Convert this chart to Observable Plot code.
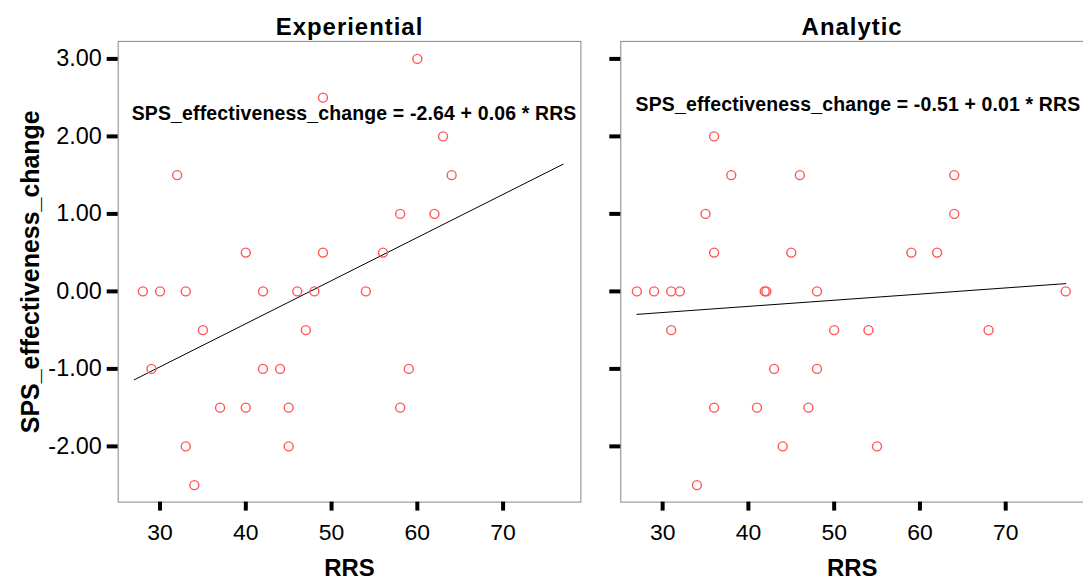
<!DOCTYPE html>
<html>
<head>
<meta charset="utf-8">
<script src="https://cdn.jsdelivr.net/npm/d3@7"></script>
<script src="https://cdn.jsdelivr.net/npm/@observablehq/plot@0.6"></script>
<style>
html, body { margin: 0; padding: 0; background: #fff; overflow: hidden; }
#chart svg { display: block; }
#chart g[aria-label="fx-axis tick label"] text { letter-spacing: 1px; }
#chart g.eq text { letter-spacing: 0.16px; }
</style>
</head>
<body>
<div id="chart"></div>
<script>
// ---- data ----
const groups = ["Experiential", "Analytic"];

const expRRS    = [60, 49, 63, 32, 64, 58, 62, 40, 49, 56, 28, 30, 33, 42, 46, 48, 54, 35, 47, 29, 42, 44, 59, 37, 40, 45, 58, 33, 45, 34];
const expChange = [3, 2.5, 2, 1.5, 1.5, 1, 1, 0.5, 0.5, 0.5, 0, 0, 0, 0, 0, 0, 0, -0.5, -0.5, -1, -1, -1, -1, -1.5, -1.5, -1.5, -1.5, -2, -2, -2.5];

const anaRRS    = [36, 38, 46, 64, 35, 64, 36, 45, 59, 62, 27, 29, 31, 32, 41.9, 42.1, 48, 77, 31, 50, 54, 68, 43, 48, 36, 41, 47, 44, 55, 34];
const anaChange = [2, 1.5, 1.5, 1.5, 1, 1, 0.5, 0.5, 0.5, 0.5, 0, 0, 0, 0, 0, 0, 0, 0, -0.5, -0.5, -0.5, -0.5, -1, -1, -1.5, -1.5, -1.5, -2, -2, -2.5];

const xTicks = [30, 40, 50, 60, 70];
const yTicks = [-2, -1, 0, 1, 2, 3];
const xLabel = "RRS";
const yLabel = "SPS_effectiveness_change";

// ---- derived tables ----
const series = [
  {group: groups[0], xs: expRRS, ys: expChange},
  {group: groups[1], xs: anaRRS, ys: anaChange}
];

const rows = series.flatMap(s => s.xs.map((x, i) => ({group: s.group, rrs: x, change: s.ys[i]})));

function ols(xs, ys) {
  const mx = d3.mean(xs), my = d3.mean(ys);
  const sxy = d3.sum(xs, (x, i) => (x - mx) * (ys[i] - my));
  const sxx = d3.sum(xs, x => (x - mx) * (x - mx));
  const b = sxy / sxx;
  return {a: my - b * mx, b};
}

const [xMin, xMax] = d3.extent(rows, d => d.rrs);
const fits = series.map(s => ({group: s.group, ...ols(s.xs, s.ys)}));
const fitRows = fits.flatMap(f => [xMin, xMax].map(x => ({group: f.group, rrs: x, change: f.a + f.b * x})));

// equation labels (anchor in data units, per panel)
const eqAnchor = {Experiential: {x: 26.7, y: 2.21}, Analytic: {x: 26.85, y: 2.33}};
const eqRows = fits.map(f => ({
  group: f.group,
  x: eqAnchor[f.group].x,
  y: eqAnchor[f.group].y,
  text: `${yLabel} = ${f.a.toFixed(2)} + ${f.b.toFixed(2)} * ${xLabel}`
}));

const xLabelRows = groups.map(g => ({group: g, text: xLabel}));
const yLabelRows = [{group: groups[0], text: yLabel}];

const chart = Plot.plot({
  width: 1086,
  height: 581,
  marginLeft: 118,
  marginRight: 0,
  marginTop: 41,
  marginBottom: 78,
  style: {fontFamily: "'Liberation Sans', Arial, sans-serif", color: "#000", background: "#fff"},
  fx: {domain: groups, paddingInner: 40 / 504, paddingOuter: 0, round: false, label: null},
  x: {domain: [25.12, 79.07]},
  y: {domain: [-2.719, 3.226]},
  marks: [
    Plot.frame({stroke: "#888", strokeWidth: 1}),
    Plot.axisFx({anchor: "top", label: null, tickSize: 0, tickPadding: 6, fontSize: 24, fontWeight: "bold"}),
    Plot.axisY(yTicks, {facetAnchor: null, tickSize: 11, strokeWidth: 4, fill: "none", label: null}),
    Plot.axisY(yTicks, {tickSize: 0, tickPadding: 16.5, fontSize: 23.5, tickFormat: d => d.toFixed(2), label: null}),
    Plot.axisX(xTicks, {tickSize: 9, strokeWidth: 4, tickPadding: 13, fontSize: 23, tickFormat: d => String(d), label: null}),
    Plot.line(fitRows, {fx: "group", x: "rrs", y: "change", stroke: "#000", strokeWidth: 1}),
    Plot.dot(rows, {fx: "group", x: "rrs", y: "change", r: 4.5, stroke: "#ff5555", strokeWidth: 1.4, fill: "none"}),
    Plot.text(eqRows, {fx: "group", x: "x", y: "y", text: "text", textAnchor: "start", lineAnchor: "bottom", fontSize: 19.5, fontWeight: "bold", fill: "#000", className: "eq"}),
    Plot.text(xLabelRows, {fx: "group", frameAnchor: "bottom", textAnchor: "middle", lineAnchor: "middle", dy: 66, text: "text", fontSize: 24, fontWeight: "bold", fill: "#000"}),
    Plot.text(yLabelRows, {fx: "group", frameAnchor: "left", textAnchor: "middle", lineAnchor: "middle", rotate: -90, dx: -87, text: "text", fontSize: 25, fontWeight: "bold", fill: "#000"})
  ]
});

document.getElementById("chart").appendChild(chart);
</script>
</body>
</html>
